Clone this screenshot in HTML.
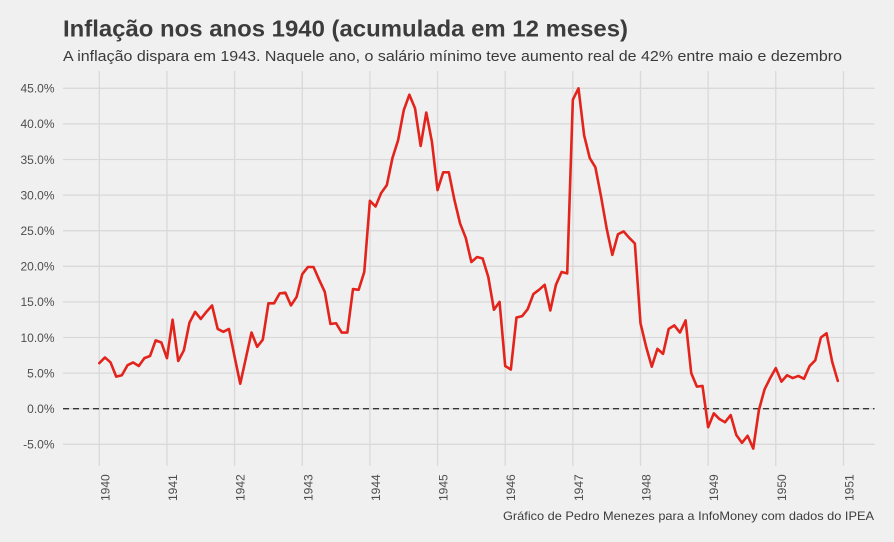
<!DOCTYPE html>
<html><head><meta charset="utf-8"><style>
html,body{margin:0;padding:0;background:#f0f0f0;}
svg{display:block;}
text{font-family:"Liberation Sans",Arial,sans-serif;}
</style></head><body>
<svg width="894" height="542" viewBox="0 0 894 542" xmlns="http://www.w3.org/2000/svg">
<rect width="894" height="542" fill="#f0f0f0"/>
<text x="63" y="36.7" font-size="23" font-weight="bold" fill="#3c3c3c" textLength="565" lengthAdjust="spacingAndGlyphs">Inflação nos anos 1940 (acumulada em 12 meses)</text>
<text x="63" y="61" font-size="14.5" fill="#3a3a3a" textLength="779" lengthAdjust="spacingAndGlyphs">A inflação dispara em 1943. Naquele ano, o salário mínimo teve aumento real de 42% entre maio e dezembro</text>
<g stroke="#d9d9d9" stroke-width="1.3" fill="none">
<line x1="63" x2="874.5" y1="88.3" y2="88.3"/>
<line x1="63" x2="874.5" y1="123.9" y2="123.9"/>
<line x1="63" x2="874.5" y1="159.5" y2="159.5"/>
<line x1="63" x2="874.5" y1="195.1" y2="195.1"/>
<line x1="63" x2="874.5" y1="230.7" y2="230.7"/>
<line x1="63" x2="874.5" y1="266.3" y2="266.3"/>
<line x1="63" x2="874.5" y1="301.9" y2="301.9"/>
<line x1="63" x2="874.5" y1="337.5" y2="337.5"/>
<line x1="63" x2="874.5" y1="373.1" y2="373.1"/>
<line x1="63" x2="874.5" y1="408.7" y2="408.7"/>
<line x1="63" x2="874.5" y1="444.3" y2="444.3"/>
<line x1="99.3" x2="99.3" y1="71" y2="466"/>
<line x1="166.95" x2="166.95" y1="71" y2="466"/>
<line x1="234.6" x2="234.6" y1="71" y2="466"/>
<line x1="302.25" x2="302.25" y1="71" y2="466"/>
<line x1="369.9" x2="369.9" y1="71" y2="466"/>
<line x1="437.55" x2="437.55" y1="71" y2="466"/>
<line x1="505.2" x2="505.2" y1="71" y2="466"/>
<line x1="572.85" x2="572.85" y1="71" y2="466"/>
<line x1="640.5" x2="640.5" y1="71" y2="466"/>
<line x1="708.15" x2="708.15" y1="71" y2="466"/>
<line x1="775.8" x2="775.8" y1="71" y2="466"/>
<line x1="843.45" x2="843.45" y1="71" y2="466"/>
</g>
<g font-size="12" fill="#4d4d4d" text-anchor="end">
<text x="54.5" y="92.6">45.0%</text>
<text x="54.5" y="128.2">40.0%</text>
<text x="54.5" y="163.8">35.0%</text>
<text x="54.5" y="199.4">30.0%</text>
<text x="54.5" y="235">25.0%</text>
<text x="54.5" y="270.6">20.0%</text>
<text x="54.5" y="306.2">15.0%</text>
<text x="54.5" y="341.8">10.0%</text>
<text x="54.5" y="377.4">5.0%</text>
<text x="54.5" y="413">0.0%</text>
<text x="54.5" y="448.6">-5.0%</text>
</g>
<g font-size="12" fill="#4d4d4d" text-anchor="end">
<text transform="translate(109.3,474.3) rotate(-90)">1940</text>
<text transform="translate(176.95,474.3) rotate(-90)">1941</text>
<text transform="translate(244.6,474.3) rotate(-90)">1942</text>
<text transform="translate(312.25,474.3) rotate(-90)">1943</text>
<text transform="translate(379.9,474.3) rotate(-90)">1944</text>
<text transform="translate(447.55,474.3) rotate(-90)">1945</text>
<text transform="translate(515.2,474.3) rotate(-90)">1946</text>
<text transform="translate(582.85,474.3) rotate(-90)">1947</text>
<text transform="translate(650.5,474.3) rotate(-90)">1948</text>
<text transform="translate(718.15,474.3) rotate(-90)">1949</text>
<text transform="translate(785.8,474.3) rotate(-90)">1950</text>
<text transform="translate(853.45,474.3) rotate(-90)">1951</text>
</g>
<line x1="63" x2="874.5" y1="408.7" y2="408.7" stroke="#333333" stroke-width="1.4" stroke-dasharray="6,4"/>
<g transform="translate(99.3,408.7) scale(5.6375,-7.12)">
<polyline fill="none" stroke="#e3241c" stroke-width="2.6" stroke-linejoin="round" stroke-linecap="round" vector-effect="non-scaling-stroke" points="0,6.4 1,7.2 2,6.5 3,4.5 4,4.7 5,6.1 6,6.5 7,6.0 8,7.1 9,7.4 10,9.6 11,9.3 12,7.1 13,12.5 14,6.7 15,8.2 16,12.1 17,13.6 18,12.6 19,13.6 20,14.5 21,11.2 22,10.8 23,11.2 24,7.3 25,3.5 26,7.1 27,10.7 28,8.7 29,9.7 30,14.8 31,14.8 32,16.2 33,16.3 34,14.5 35,15.7 36,18.9 37,19.9 38,19.9 39,18.1 40,16.4 41,11.9 42,12.0 43,10.7 44,10.7 45,16.8 46,16.7 47,19.2 48,29.2 49,28.4 50,30.3 51,31.4 52,35.2 53,37.7 54,41.9 55,44.1 56,42.2 57,36.9 58,41.6 59,37.5 60,30.7 61,33.2 62,33.2 63,29.3 64,26.0 65,24.0 66,20.6 67,21.3 68,21.1 69,18.5 70,13.9 71,15.0 72,6.0 73,5.5 74,12.8 75,13.0 76,14.0 77,16.1 78,16.7 79,17.4 80,13.8 81,17.4 82,19.2 83,19.0 84,43.4 85,45.0 86,38.4 87,35.2 88,33.9 89,29.8 90,25.3 91,21.6 92,24.5 93,24.9 94,24.0 95,23.2 96,12.0 97,8.7 98,5.9 99,8.4 100,7.7 101,11.2 102,11.7 103,10.7 104,12.4 105,5.0 106,3.1 107,3.2 108,-2.6 109,-0.65 110,-1.45 111,-1.9 112,-0.9 113,-3.7 114,-4.8 115,-3.8 116,-5.6 117,-0.2 118,2.7 119,4.3 120,5.7 121,3.8 122,4.7 123,4.3 124,4.6 125,4.2 126,6.0 127,6.8 128,10.0 129,10.6 130,6.6 131,3.9"/>
</g>
<text x="874" y="520" font-size="12" fill="#3c3c3c" text-anchor="end" textLength="371" lengthAdjust="spacingAndGlyphs">Gráfico de Pedro Menezes para a InfoMoney com dados do IPEA</text>
</svg>
</body></html>
